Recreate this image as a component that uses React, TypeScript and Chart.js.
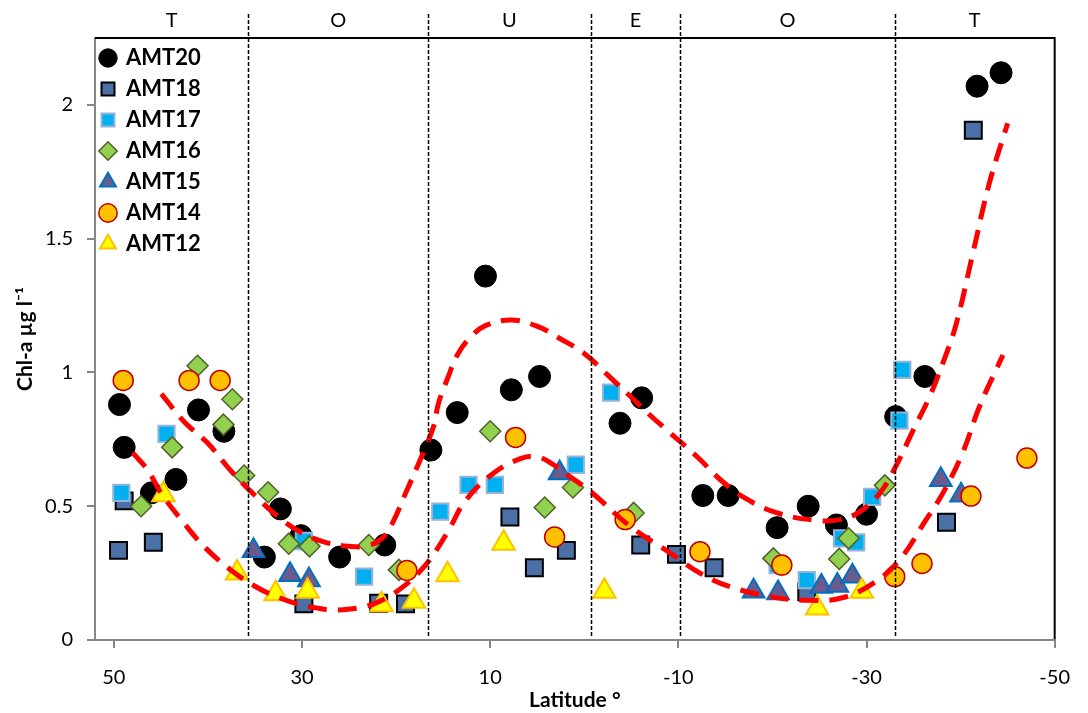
import React, { useEffect, useRef } from 'react';
import { Chart, registerables } from 'chart.js';

Chart.register(...registerables);

// ---- data (latitude °, Chl-a µg l-1) ----
const amt20Lat = [49.4, 48.9, 46.0, 43.4, 41.0, 38.3, 34.0, 32.3, 30.1, 26.0, 21.2, 16.3, 13.5, 10.5, 7.75, 4.75, -3.8, -6.1, -12.6, -15.3, -20.5, -23.8, -26.8, -30.0, -33.1, -36.2, -41.75, -44.3];
const amt20Chl = [0.88, 0.72, 0.55, 0.6, 0.86, 0.78, 0.31, 0.49, 0.39, 0.31, 0.355, 0.71, 0.85, 1.36, 0.935, 0.985, 0.81, 0.905, 0.54, 0.54, 0.42, 0.5, 0.43, 0.47, 0.835, 0.985, 2.07, 2.12];

const amt18Lat = [49.5, 48.9, 45.8, 29.8, 21.85, 19.0, 7.9, 5.3, 1.9, -6.0, -9.8, -13.8, -23.65, -38.5, -41.35];
const amt18Chl = [0.335, 0.52, 0.365, 0.135, 0.137, 0.135, 0.46, 0.27, 0.335, 0.355, 0.32, 0.27, 0.18, 0.44, 1.905];

const amt17Lat = [49.2, 44.4, 29.8, 23.4, 15.3, 12.3, 9.5, 0.9, -2.85, -20.55, -23.65, -27.4, -28.9, -30.6, -33.5, -33.8];
const amt17Chl = [0.55, 0.77, 0.37, 0.237, 0.48, 0.58, 0.58, 0.655, 0.925, 0.28, 0.224, 0.38, 0.365, 0.535, 0.82, 1.01];

const amt16Lat = [47.1, 43.8, 41.1, 38.35, 37.4, 36.15, 33.6, 31.4, 29.2, 22.9, 19.7, 10.0, 4.2, 1.2, -5.25, -20.1, -27.1, -28.1, -31.95];
const amt16Chl = [0.5, 0.72, 1.025, 0.805, 0.9, 0.615, 0.552, 0.36, 0.35, 0.355, 0.262, 0.78, 0.495, 0.57, 0.475, 0.305, 0.303, 0.38, 0.578];

const amt15Lat = [35.15, 31.27, 29.26, 2.62, -18.0, -20.6, -25.2, -26.9, -28.5, -37.9, -40.05];
const amt15Chl = [0.334, 0.244, 0.224, 0.624, 0.182, 0.176, 0.2, 0.204, 0.238, 0.599, 0.541];

const amt14Lat = [49.0, 42.0, 38.7, 18.85, 7.3, 3.15, -4.35, -12.3, -21.0, -33.0, -35.9, -41.1, -47.05];
const amt14Chl = [0.97, 0.97, 0.97, 0.26, 0.757, 0.385, 0.45, 0.33, 0.28, 0.237, 0.286, 0.538, 0.68];

const amt12Lat = [44.73, 36.9, 32.8, 29.4, 21.55, 18.1, 14.53, 8.57, -2.14, -24.75, -29.5];
const amt12Chl = [0.543, 0.25, 0.173, 0.182, 0.132, 0.145, 0.244, 0.362, 0.182, 0.12, 0.182];

// red dashed trend curves
const trendUpperLat = [44.95, 42.5, 40, 37.5, 35, 32.5, 30, 27.5, 25, 23, 21.5, 20.4, 19.0, 17.6, 16, 15.5, 14.5, 13.4, 12, 10.5, 7.75, 4.9, 2.5, 0, -2.5, -4.95, -7, -9.2, -12, -14.5, -17.1, -20.5, -24.4, -27.2, -29.3, -31.4, -33.2, -34.9, -36.7, -38.1, -39.5, -41.3, -43.05, -45];
const trendUpperChl = [0.92, 0.815, 0.735, 0.63, 0.54, 0.46, 0.4, 0.365, 0.35, 0.352, 0.38, 0.436, 0.548, 0.66, 0.8, 0.884, 0.98, 1.071, 1.135, 1.175, 1.196, 1.171, 1.125, 1.071, 0.99, 0.909, 0.84, 0.772, 0.685, 0.598, 0.53, 0.475, 0.448, 0.45, 0.48, 0.548, 0.655, 0.78, 0.909, 1.034, 1.177, 1.445, 1.707, 1.931];

const trendLowerLat = [48, 46.4, 44.95, 42.8, 40.4, 37.5, 34.9, 33.1, 30.7, 28.5, 26.4, 23.3, 21.1, 19, 17.5, 16.2, 14.4, 12.7, 9.9, 6.7, 5, 3.5, 1.5, -0.7, -4.95, -9.2, -12.3, -15.5, -19.8, -23.3, -27.2, -30.7, -33.5, -36.3, -38.1, -40.2, -42, -44.5];
const trendLowerChl = [0.7, 0.635, 0.548, 0.448, 0.349, 0.26, 0.199, 0.168, 0.137, 0.12, 0.112, 0.125, 0.156, 0.206, 0.255, 0.311, 0.411, 0.517, 0.617, 0.679, 0.685, 0.66, 0.61, 0.554, 0.423, 0.324, 0.25, 0.199, 0.162, 0.149, 0.156, 0.212, 0.299, 0.448, 0.548, 0.698, 0.872, 1.065];

const xTickValues = [50, 30, 10, -10, -30, -50];
const yTickValues = [0, 0.5, 1, 1.5, 2];
const xMin = -50;
const xMax = 52;
const yMax = 2.25;

// province boundaries and labels
const regionBounds = [35.7, 16.6, -0.7, -10.2, -33];
const regionLabels = ['T', 'O', 'U', 'E', 'O', 'T'];

const FONT = 'Lato';

const pts = (lat: number[], chl: number[]) => lat.map((x, i) => ({ x, y: chl[i] }));

const framePlugin = {
  id: 'frame',
  afterLayout(chart: any) {
    const lg = chart.legend;
    const ca = chart.chartArea;
    if (lg) {
      lg.left = ca.left - 3;
      lg.top = ca.top;
      lg.right = ca.right;
      lg.bottom = ca.bottom;
    }
  },
  afterDatasetsDraw(chart: any) {
    const { ctx, chartArea: ca, scales } = chart;
    const xs = scales.x;
    ctx.save();
    // region separators
    ctx.strokeStyle = '#000';
    ctx.lineWidth = 1.5;
    ctx.setLineDash([4, 2]);
    regionBounds.forEach((b) => {
      const px = Math.round(xs.getPixelForValue(b)) + 0.5;
      ctx.beginPath();
      ctx.moveTo(px, 14);
      ctx.lineTo(px, ca.bottom - 4);
      ctx.stroke();
    });
    ctx.setLineDash([]);
    // top and right frame
    ctx.lineWidth = 2;
    ctx.beginPath();
    ctx.moveTo(ca.left, ca.top);
    ctx.lineTo(ca.right, ca.top);
    ctx.lineTo(ca.right, ca.bottom - 1);
    ctx.stroke();
    // region labels
    const edges = [xMax, ...regionBounds, xMin];
    ctx.fillStyle = '#000';
    ctx.font = `20px ${FONT}`;
    ctx.textAlign = 'center';
    ctx.textBaseline = 'middle';
    regionLabels.forEach((t, i) => {
      const mid = (edges[i] + edges[i + 1]) / 2;
      ctx.fillText(t, xs.getPixelForValue(mid), 21);
    });
    ctx.restore();
  },
};

export default function App() {
  const ref = useRef<HTMLCanvasElement>(null);
  useEffect(() => {
    const canvas = ref.current;
    if (!canvas) return;
    const trendStyle = {
      showLine: true,
      borderColor: '#FF0000',
      backgroundColor: '#FF0000',
      borderWidth: 5,
      borderDash: [19, 11],
      pointRadius: 0,
      pointHoverRadius: 0,
      tension: 0.4,
      fill: false,
      order: 0,
    };
    const chart = new Chart(canvas, {
      type: 'scatter',
      data: {
        datasets: [
          { label: 'AMT20', data: pts(amt20Lat, amt20Chl), pointStyle: 'circle', pointRadius: 11, backgroundColor: '#000000', borderColor: '#000000', borderWidth: 1, order: 7 },
          { label: 'AMT18', data: pts(amt18Lat, amt18Chl), pointStyle: 'rect', pointRadius: 12, backgroundColor: '#4A70A6', borderColor: '#000000', borderWidth: 2, order: 6 },
          { label: 'AMT17', data: pts(amt17Lat, amt17Chl), pointStyle: 'rect', pointRadius: 11.5, backgroundColor: '#00B0F0', borderColor: '#95B3D7', borderWidth: 2, order: 5 },
          { label: 'AMT16', data: pts(amt16Lat, amt16Chl), pointStyle: 'rectRot', pointRadius: 10.5, backgroundColor: '#92D050', borderColor: '#4F6228', borderWidth: 1.5, order: 4 },
          { label: 'AMT15', data: pts(amt15Lat, amt15Chl), pointStyle: 'triangle', pointRadius: 12.5, backgroundColor: '#6A5A8E', borderColor: '#0070C0', borderWidth: 2, order: 3 },
          { label: 'AMT14', data: pts(amt14Lat, amt14Chl), pointStyle: 'circle', pointRadius: 10, backgroundColor: '#FFC000', borderColor: '#C00000', borderWidth: 1.5, order: 2 },
          { label: 'AMT12', data: pts(amt12Lat, amt12Chl), pointStyle: 'triangle', pointRadius: 13, backgroundColor: '#FFFF00', borderColor: '#FFC000', borderWidth: 2, order: 1 },
          { label: 'trend upper', data: pts(trendUpperLat, trendUpperChl), ...trendStyle },
          { label: 'trend lower', data: pts(trendLowerLat, trendLowerChl), ...trendStyle },
        ] as any,
      },
      options: {
        responsive: false,
        animation: false,
        layout: { padding: { top: 38, right: 29, left: 0, bottom: 0 } },
        plugins: {
          legend: {
            position: 'chartArea' as any,
            align: 'start',
            labels: {
              usePointStyle: true,
              boxWidth: 14,
              boxHeight: 13,
              padding: 9,
              color: '#000',
              font: { family: FONT, size: 22, weight: 'bold' },
              filter: (item: any) => item.datasetIndex < 7,
              sort: (a: any, b: any) => a.datasetIndex - b.datasetIndex,
            },
          },
          tooltip: { enabled: false },
        },
        scales: {
          x: {
            type: 'linear',
            reverse: true,
            min: xMin,
            max: xMax,
            afterBuildTicks: (s: any) => { s.ticks = xTickValues.map((v) => ({ value: v })); },
            afterFit: (s: any) => { s.height = 73; },
            grid: { drawOnChartArea: false, drawTicks: true, tickLength: 8, color: '#868686', lineWidth: 2 },
            border: { display: true, color: '#868686', width: 2 },
            ticks: { color: '#000', font: { family: FONT, size: 20 }, padding: 18, maxRotation: 0, autoSkip: false, callback: (v: any) => String(v) },
            title: { display: true, text: 'Latitude °', color: '#000', font: { family: FONT, size: 21, weight: 'bold' }, padding: { top: 0, bottom: 0 } },
          },
          y: {
            type: 'linear',
            min: 0,
            max: yMax,
            afterBuildTicks: (s: any) => { s.ticks = yTickValues.map((v) => ({ value: v })); },
            afterFit: (s: any) => { s.width = 95; },
            grid: { drawOnChartArea: false, drawTicks: true, tickLength: 8, color: '#868686', lineWidth: 2 },
            border: { display: true, color: '#868686', width: 2 },
            ticks: { color: '#000', font: { family: FONT, size: 20 }, padding: 14, autoSkip: false, callback: (v: any) => String(v) },
            title: { display: true, text: 'Chl-a µg l⁻¹', color: '#000', font: { family: FONT, size: 21, weight: 'bold' }, padding: { top: 13, bottom: 0 } },
          },
        },
      } as any,
      plugins: [framePlugin],
    });
    return () => chart.destroy();
  }, []);
  return (
    <div style={{ position: 'fixed', left: 0, top: 0, width: 1088, height: 713, background: '#fff' }}>
      <canvas ref={ref} width={1088} height={713} style={{ display: 'block', width: 1088, height: 713 }} />
    </div>
  );
}
